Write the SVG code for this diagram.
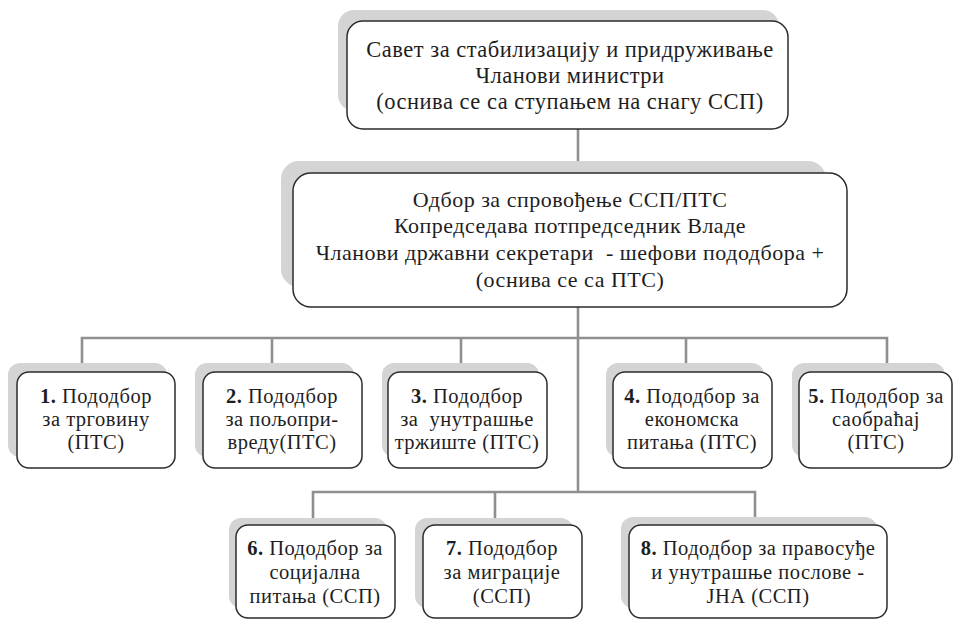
<svg xmlns="http://www.w3.org/2000/svg" width="954" height="620" viewBox="0 0 954 620">
  <style>
    .shadow { fill: #d4d4d4; }
    .box { fill: #ffffff; stroke: #2b2b2b; stroke-width: 1.5; }
    .link { fill: none; stroke: #8f8f8f; stroke-width: 2.6; }
    text { font-family: "Liberation Serif", "DejaVu Serif", serif; fill: #1e1e1e; text-anchor: middle; letter-spacing: 0.5px; }
    .big { font-size: 22.5px; }
    .mid { font-size: 22px; }
    .small { font-size: 20.5px; }
    .num { font-weight: bold; }
  </style>
  <rect width="954" height="620" fill="#ffffff"/>

  <!-- connectors -->
  <g id="connectors">
    <path class="link" d="M578 129 V173"/>
    <path class="link" d="M578 307 V492"/>
    <path class="link" d="M82 372 V338 H887 V372"/>
    <path class="link" d="M272 338 V372"/>
    <path class="link" d="M461 338 V372"/>
    <path class="link" d="M686 338 V372"/>
    <path class="link" d="M313 525 V492 H755 V525"/>
    <path class="link" d="M495 492 V525"/>
  </g>

  <!-- council -->
  <g id="council">
    <rect class="shadow" x="338" y="10" width="441" height="101" rx="16"/>
    <rect class="box" x="347" y="21" width="441" height="108" rx="16"/>
    <text class="big" x="570" y="57">Савет за стабилизацију и придруживање</text>
    <text class="big" x="570" y="83">Чланови министри</text>
    <text class="big" x="570" y="109">(оснива се са ступањем на снагу ССП)</text>
  </g>

  <!-- committee -->
  <g id="committee">
    <rect class="shadow" x="281" y="161" width="545" height="126" rx="18"/>
    <rect class="box" x="293" y="173" width="554" height="134" rx="18"/>
    <text class="mid" x="570" y="207">Одбор за спровођење ССП/ПТС</text>
    <text class="mid" x="570" y="233">Копредседава потпредседник Владе</text>
    <text class="mid" x="570" y="260" xml:space="preserve">Чланови државни секретари  - шефови пододбора +</text>
    <text class="mid" x="570" y="287">(оснива се са ПТС)</text>
  </g>

  <!-- subcommittees, first row -->
  <g id="sub1">
    <rect class="shadow" x="8" y="363" width="159" height="94" rx="12"/>
    <rect class="box" x="17" y="372" width="158" height="96" rx="12"/>
    <text class="small" x="96" y="403"><tspan class="num">1.</tspan> Пододбор</text>
    <text class="small" x="96" y="426">за трговину</text>
    <text class="small" x="96" y="449">(ПТС)</text>
  </g>
  <g id="sub2">
    <rect class="shadow" x="195" y="363" width="159" height="94" rx="12"/>
    <rect class="box" x="203" y="372" width="159" height="96" rx="12"/>
    <text class="small" x="282" y="403"><tspan class="num">2.</tspan> Пододбор</text>
    <text class="small" x="282" y="426">за пољопри-</text>
    <text class="small" x="282" y="449">вреду(ПТС)</text>
  </g>
  <g id="sub3">
    <rect class="shadow" x="382" y="363" width="157" height="94" rx="12"/>
    <rect class="box" x="388" y="372" width="159" height="96" rx="12"/>
    <text class="small" x="467" y="403"><tspan class="num">3.</tspan> Пододбор</text>
    <text class="small" x="467" y="426" xml:space="preserve">за  унутрашње</text>
    <text class="small" x="467" y="449">тржиште (ПТС)</text>
  </g>
  <g id="sub4">
    <rect class="shadow" x="606" y="363" width="158" height="94" rx="12"/>
    <rect class="box" x="613" y="372" width="159" height="96" rx="12"/>
    <text class="small" x="692" y="403"><tspan class="num">4.</tspan> Пододбор за</text>
    <text class="small" x="692" y="426">економска</text>
    <text class="small" x="692" y="449">питања (ПТС)</text>
  </g>
  <g id="sub5">
    <rect class="shadow" x="792" y="363" width="153" height="94" rx="12"/>
    <rect class="box" x="799" y="372" width="153" height="96" rx="12"/>
    <text class="small" x="876" y="403"><tspan class="num">5.</tspan> Пододбор за</text>
    <text class="small" x="876" y="426">саобраћај</text>
    <text class="small" x="876" y="449">(ПТС)</text>
  </g>

  <!-- subcommittees, second row -->
  <g id="sub6">
    <rect class="shadow" x="229" y="518" width="158" height="90" rx="12"/>
    <rect class="box" x="236" y="525" width="159" height="93" rx="12"/>
    <text class="small" x="315" y="555"><tspan class="num">6.</tspan> Пододбор за</text>
    <text class="small" x="315" y="579">социјална</text>
    <text class="small" x="315" y="603">питања (ССП)</text>
  </g>
  <g id="sub7">
    <rect class="shadow" x="415" y="518" width="158" height="90" rx="12"/>
    <rect class="box" x="423" y="525" width="159" height="93" rx="12"/>
    <text class="small" x="502" y="555"><tspan class="num">7.</tspan> Пододбор</text>
    <text class="small" x="502" y="579">за миграције</text>
    <text class="small" x="502" y="603">(ССП)</text>
  </g>
  <g id="sub8">
    <rect class="shadow" x="621" y="517" width="256" height="91" rx="12"/>
    <rect class="box" x="629" y="525" width="258" height="93" rx="12"/>
    <text class="small" x="758" y="555"><tspan class="num">8.</tspan> Пододбор за правосуђе</text>
    <text class="small" x="758" y="579">и унутрашње послове -</text>
    <text class="small" x="758" y="603">ЈНА (ССП)</text>
  </g>
</svg>
